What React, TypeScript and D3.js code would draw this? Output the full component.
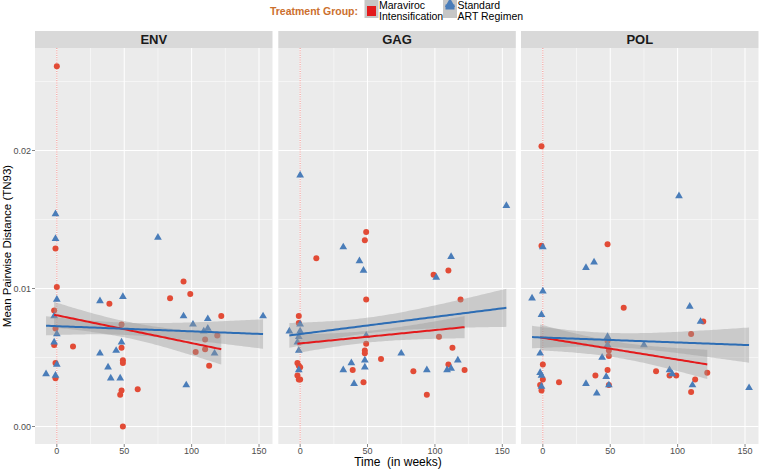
import React from "react";
import * as d3 from "d3";

// ---- data (weeks, mean pairwise distance TN93) ----
const panelNames = ["ENV", "GAG", "POL"];
const groupNames = ["Maraviroc\nIntensification", "Standard\nART Regimen"];

const envMvcWeeks = [0, -1, 0, -2, -1, -2, -1, -1, 12, 39, 48, 48, 49, 49, 48, 47, 49, 60, 84, 94, 99, 103, 110, 110, 113, 119, 122];
const envMvcVals = [0.0261, 0.0129, 0.0101, 0.0084, 0.0071, 0.0059, 0.0046, 0.0035, 0.0058, 0.0089, 0.0074, 0.0057, 0.0048, 0.0046, 0.0026, 0.0023, 0.0, 0.0027, 0.0093, 0.0105, 0.0096, 0.0054, 0.0063, 0.0056, 0.0044, 0.0066, 0.008];
const envStdWeeks = [-1, -1, 0, -2, 0, -2, 0, -8, -1, 32, 49, 48, 32, 44, 38, 40, 47, 75, 94, 101, 96, 112, 109, 112, 117, 153];
const envStdVals = [0.0154, 0.0136, 0.0092, 0.008, 0.0067, 0.0061, 0.0045, 0.0038, 0.0037, 0.0091, 0.0094, 0.0061, 0.0053, 0.0055, 0.0043, 0.0035, 0.0035, 0.0137, 0.008, 0.0074, 0.003, 0.0078, 0.0069, 0.0071, 0.0053, 0.008];

const gagMvcWeeks = [49, 48, 12, 110, 99, 49, 119, -1, -1, 49, 48, 48, 60, 39, 47, 103, 113, 110, 122, 84, 94, -2, -1, 0, -2, -1, 0];
const gagMvcVals = [0.0141, 0.0135, 0.0122, 0.0113, 0.011, 0.0092, 0.0092, 0.008, 0.0075, 0.006, 0.0055, 0.0053, 0.0049, 0.0041, 0.0032, 0.0065, 0.0057, 0.0045, 0.0041, 0.004, 0.0023, 0.0046, 0.0044, 0.0043, 0.0037, 0.0034, 0.0034];
const gagStdWeeks = [0, 153, 32, 112, 44, 47, 101, 0, -8, 0, -1, -2, -1, 49, 48, 48, 38, 32, 40, 75, 117, 109, 112, 94, -1];
const gagStdVals = [0.0182, 0.016, 0.013, 0.0123, 0.012, 0.0113, 0.0108, 0.0074, 0.0069, 0.0069, 0.0065, 0.0061, 0.0055, 0.0066, 0.0048, 0.0043, 0.0046, 0.0041, 0.0031, 0.0053, 0.0048, 0.0041, 0.0042, 0.0041, 0.0041];

const polMvcWeeks = [-1, -1, 48, 60, 119, 110, 48, 49, 49, 0, 48, 0, -2, -1, 12, 39, 49, 84, 94, 99, 122, 113, 110];
const polMvcVals = [0.0203, 0.0131, 0.0132, 0.0086, 0.0076, 0.0067, 0.0062, 0.0055, 0.0051, 0.0045, 0.0041, 0.0034, 0.003, 0.0026, 0.0032, 0.0037, 0.003, 0.004, 0.0037, 0.0037, 0.0039, 0.0034, 0.0025];
const polStdWeeks = [101, 0, 32, 38, 0, -8, 109, -1, 117, 48, 48, 75, -2, 44, -2, -1, -1, 32, 40, 47, 49, 94, 96, 111, 153];
const polStdVals = [0.0167, 0.013, 0.0115, 0.0119, 0.0098, 0.0093, 0.0087, 0.0081, 0.0076, 0.0065, 0.0059, 0.0059, 0.0053, 0.005, 0.0039, 0.0037, 0.0029, 0.0031, 0.0024, 0.0036, 0.003, 0.0041, 0.0038, 0.003, 0.0028];

// linear-fit values: [panel][group] at first / last week of each group
const fitStart = [[0.0081, 0.0073], [0.006, 0.0066], [0.00646, 0.00648]];
const fitEnd = [[0.0056, 0.0067], [0.0072, 0.0086], [0.0045, 0.0059]];
// confidence-band half widths read at the same two ends
const bandStart = [[0.00094, 0.0007], [0.00065, 0.0009], [0.00087, 0.0008]];
const bandEnd = [[0.0011, 0.00106], [0.00083, 0.00138], [0.00114, 0.0013]];

const xTicks = [0, 50, 100, 150];
const xMinor = [25, 75, 125];
const yTicks = [0, 0.01, 0.02];
const yMinor = [0.005, 0.015, 0.025];

const panelData = [
  [[envMvcWeeks, envMvcVals], [envStdWeeks, envStdVals]],
  [[gagMvcWeeks, gagMvcVals], [gagStdWeeks, gagStdVals]],
  [[polMvcWeeks, polMvcVals], [polStdWeeks, polStdVals]],
];

// ---- layout ----
const W = 760, H = 470;
const panelLeft = [35, 278.3, 521];
const PW = 237.5;
const TOP = 48, BOTTOM = 444, STRIP_TOP = 31;
const pointColors = ["#E24B36", "#4A7DB9"];
const lineColors = ["#E31A1C", "#2D6DB4"];

function fit(xs: number[], y0: number, y1: number, h0: number, h1: number) {
  const n = xs.length;
  const mx = d3.mean(xs)!;
  let sxx = 0;
  xs.forEach((x) => { sxx += (x - mx) ** 2; });
  const g = (x: number) => Math.sqrt(1 / n + (x - mx) ** 2 / sxx);
  const [x0, x1] = d3.extent(xs) as [number, number];
  const k = (h0 / g(x0) + h1 / g(x1)) / 2;
  return d3.range(0, 81).map((i) => {
    const x = x0 + (x1 - x0) * i / 80;
    const yh = y0 + (y1 - y0) * (x - x0) / (x1 - x0);
    const h = k * g(x);
    return { x, y: yh, lo: yh - h, hi: yh + h };
  });
}

export default function App() {
  const x = d3.scaleLinear().domain([-16.2, 160]).range([0, PW]);
  const y = d3.scaleLinear().domain([0, 0.01]).range([426.5, 288.5]);
  const tri = d3.symbol(d3.symbolTriangle, 26)()!;
  const font = "Liberation Sans, Arial, Helvetica, sans-serif";

  return (
    <svg width={W} height={H} style={{ position: "absolute", left: 0, top: 0, background: "#fff" }} fontFamily={font}>
      {/* legend */}
      <text x={358} y={14.5} textAnchor="end" fontSize={10.5} fontWeight="bold" fill="#CC6F2E">Treatment Group:</text>
      {groupNames.map((g, gi) => {
        const kx = gi === 0 ? 364.5 : 443;
        const lines = g.split("\n");
        return (
          <g key={g}>
            <rect x={kx} y={-1} width={14} height={19} fill="#C6C6C6" />
            {gi === 0 ? (
              <rect x={kx + 2.5} y={6} width={9} height={10} fill={lineColors[0]} />
            ) : (
              <g>
                <rect x={kx + 2.5} y={4.5} width={9} height={5} fill={pointColors[1]} />
                <path d={tri} transform={`translate(${kx + 7},${4}) scale(1.3)`} fill={pointColors[1]} />
              </g>
            )}
            <text x={kx + 14.5} y={8.5} fontSize={10.5} fill="#000">{lines[0]}</text>
            <text x={kx + 14.5} y={19.5} fontSize={10.5} fill="#000">{lines[1]}</text>
          </g>
        );
      })}

      {panelNames.map((name, pi) => {
        const left = panelLeft[pi];
        const area = d3.area<any>().x((d) => x(d.x)).y0((d) => y(d.lo)).y1((d) => y(d.hi));
        const line = d3.line<any>().x((d) => x(d.x)).y((d) => y(d.y));
        const fits = panelData[pi].map(([xs], gi) =>
          fit(xs, fitStart[pi][gi], fitEnd[pi][gi], bandStart[pi][gi], bandEnd[pi][gi])
        );
        return (
          <g key={name} transform={`translate(${left},0)`}>
            <rect x={0} y={STRIP_TOP} width={PW} height={TOP - STRIP_TOP} fill="#D9D9D9" />
            <text x={PW / 2} y={44} textAnchor="middle" fontSize={13} fontWeight="bold" fill="#1A1A1A">{name}</text>
            <rect x={0} y={TOP} width={PW} height={BOTTOM - TOP} fill="#EBEBEB" />
            {xMinor.map((t) => (
              <line key={"xm" + t} x1={x(t)} x2={x(t)} y1={TOP} y2={BOTTOM} stroke="#fff" strokeWidth={0.5} />
            ))}
            {yMinor.map((t) => (
              <line key={"ym" + t} x1={0} x2={PW} y1={y(t)} y2={y(t)} stroke="#fff" strokeWidth={0.5} />
            ))}
            {xTicks.map((t) => (
              <line key={"x" + t} x1={x(t)} x2={x(t)} y1={TOP} y2={BOTTOM} stroke="#fff" strokeWidth={1} />
            ))}
            {yTicks.map((t) => (
              <line key={"y" + t} x1={0} x2={PW} y1={y(t)} y2={y(t)} stroke="#fff" strokeWidth={1} />
            ))}
            <line x1={x(0)} x2={x(0)} y1={TOP} y2={BOTTOM} stroke="#EC7E7A" strokeWidth={0.9} strokeDasharray="1,1.3" />
            {/* points */}
            {panelData[pi].map(([xs, ys], gi) =>
              xs.map((wk, i) =>
                gi === 0 ? (
                  <circle key={`p${gi}-${i}`} cx={x(wk)} cy={y(ys[i])} r={3} fill={pointColors[0]} />
                ) : (
                  <path key={`p${gi}-${i}`} d={tri} transform={`translate(${x(wk)},${y(ys[i])})`} fill={pointColors[1]} />
                )
              )
            )}
            {/* smooths */}
            {fits.map((f, gi) => (
              <path key={"r" + gi} d={area(f)!} fill="#999999" fillOpacity={0.4} />
            ))}
            {fits.map((f, gi) => (
              <path key={"l" + gi} d={line(f)!} fill="none" stroke={lineColors[gi]} strokeWidth={2} />
            ))}
            {/* x axis */}
            {xTicks.map((t) => (
              <g key={"xt" + t}>
                <line x1={x(t)} x2={x(t)} y1={BOTTOM} y2={BOTTOM + 3} stroke="#333" strokeWidth={0.6} />
                <text x={x(t)} y={453.5} textAnchor="middle" fontSize={9} fill="#4D4D4D">{t}</text>
              </g>
            ))}
            {pi === 0 &&
              yTicks.map((t) => (
                <g key={"yt" + t}>
                  <line x1={-3} x2={0} y1={y(t)} y2={y(t)} stroke="#333" strokeWidth={0.6} />
                  <text x={-4} y={y(t) + 3.2} textAnchor="end" fontSize={9} fill="#4D4D4D">{d3.format(".2f")(t)}</text>
                </g>
              ))}
          </g>
        );
      })}

      <text x={398} y={466} textAnchor="middle" fontSize={12} fill="#000" style={{ whiteSpace: "pre" }}>Time  (in weeks)</text>
      <text transform={`translate(10.5,246) rotate(-90)`} textAnchor="middle" fontSize={11.5} fill="#000">Mean Pairwise Distance (TN93)</text>
    </svg>
  );
}
